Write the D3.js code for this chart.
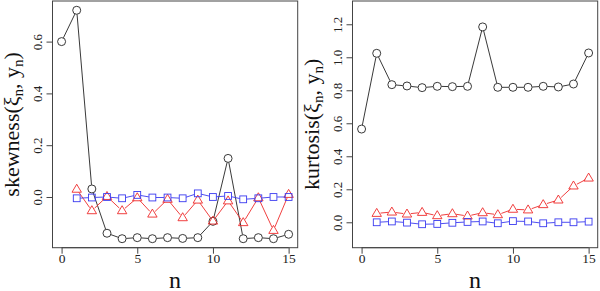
<!DOCTYPE html>
<html><head><meta charset="utf-8">
<script src="https://cdn.jsdelivr.net/npm/d3@7"></script>
<style>body{margin:0;background:#fff}svg{display:block}
svg text{font-family:"Liberation Serif","Times New Roman",Times,"DejaVu Serif",serif !important;}</style>
</head><body>
<svg id="c" width="600" height="291"></svg>
<script>
const nBlack = d3.range(0,16);
const nOther = d3.range(1,16);
const skewBlack = [0.60,0.721,0.031,-0.140,-0.161,-0.157,-0.161,-0.157,-0.160,-0.157,-0.094,0.149,-0.161,-0.157,-0.161,-0.144];
const skewRed = [0.030,-0.053,0.002,-0.053,-0.003,-0.066,-0.009,-0.080,-0.012,-0.093,-0.015,-0.099,-0.003,-0.129,0.010];
const skewBlue = [-0.005,-0.002,0.000,-0.005,0.008,-0.002,-0.002,-0.005,0.014,0.000,0.004,-0.009,-0.005,0.000,0.000];
const kurtBlack = [0.565,1.024,0.834,0.826,0.816,0.824,0.822,0.824,1.184,0.818,0.818,0.818,0.824,0.820,0.838,1.026];
const kurtRed = [0.054,0.062,0.050,0.060,0.040,0.052,0.038,0.058,0.046,0.079,0.075,0.107,0.135,0.220,0.268];
const kurtBlue = [0.000,0.005,-0.002,-0.012,-0.010,-0.003,0.002,0.005,-0.006,0.007,0.005,-0.006,0.000,0.000,0.004];
const xTicks = [0,5,10,15];
const skewTicks = [0.0,0.2,0.4,0.6];
const kurtTicks = [0.0,0.2,0.4,0.6,0.8,1.0,1.2];

const svg = d3.select("#c");

function panel(ox, yDom, yTicks, black, red, blue, name){
  const L = 52.5 + ox, R = 297.7 + ox, T = 1, B = 247.7;
  const x = d3.scaleLinear().domain([-0.6,15.6]).range([L,R]);
  const y = d3.scaleLinear().domain(yDom).range([B,T]);
  const g = svg.append("g");
  g.append("rect").attr("x",L).attr("y",T).attr("width",R-L).attr("height",B-T)
    .attr("fill","none").attr("stroke","#444").attr("stroke-width",1);
  const xa = g.append("g").attr("transform",`translate(0,${B})`)
    .call(d3.axisBottom(x).tickValues(xTicks).tickSize(6).tickSizeOuter(0).tickFormat(d3.format("d")));
  xa.attr("font-family",null);
  xa.select(".domain").attr("d",`M${x(0)},0H${x(15)}`).attr("stroke","#444");
  xa.selectAll(".tick line").attr("stroke","#444");
  xa.selectAll("text").attr("font-size",13.5).attr("fill","#222").attr("dy",null).attr("y",15.5);
  const ya = g.append("g").attr("transform",`translate(${L},0)`)
    .call(d3.axisLeft(y).tickValues(yTicks).tickSize(6).tickSizeOuter(0).tickFormat(d3.format(".1f")));
  ya.attr("font-family",null);
  ya.select(".domain").attr("d",`M0,${y(yTicks[0])}V${y(yTicks[yTicks.length-1])}`).attr("stroke","#444");
  ya.selectAll(".tick line").attr("stroke","#444");
  ya.selectAll(".tick text").attr("font-size",13).attr("fill","#222")
    .attr("x",null).attr("dy",null).attr("text-anchor","middle")
    .attr("transform","translate(-10.5,0) rotate(-90)");
  g.append("text").attr("x",(L+R)/2).attr("y",287.5).attr("text-anchor","middle")
    .attr("font-size",24).attr("fill","#111").text("n");
  const yl = g.append("text").attr("transform",`translate(${ox+18.5},${(T+B)/2}) rotate(-90)`)
    .attr("text-anchor","middle").attr("font-size",22).attr("fill","#111");
  yl.append("tspan").text(name+"(");
  yl.append("tspan").text("ξ");
  yl.append("tspan").attr("font-size",15).attr("dy",4).text("n");
  yl.append("tspan").attr("dy",-4).text(", y");
  yl.append("tspan").attr("font-size",15).attr("dy",4).text("n");
  yl.append("tspan").attr("dy",-4).text(")");

  function series(xs, vals, color, gap, shape, sw){
    const pts = xs.map((n,i)=>[x(n), y(vals[i])]);
    const sg = g.append("g");
    for(let i=0;i<pts.length-1;i++){
      const [x1,y1]=pts[i],[x2,y2]=pts[i+1];
      const d=Math.hypot(x2-x1,y2-y1);
      if(d<=2*gap) continue;
      const ux=(x2-x1)/d, uy=(y2-y1)/d;
      sg.append("line").attr("x1",x1+ux*gap).attr("y1",y1+uy*gap)
        .attr("x2",x2-ux*gap).attr("y2",y2-uy*gap)
        .attr("stroke",color).attr("stroke-width",sw);
    }
    pts.forEach(([px,py])=>{
      if(shape==="circle"){
        sg.append("circle").attr("cx",px).attr("cy",py).attr("r",4.0)
          .attr("fill","none").attr("stroke",color).attr("stroke-width",sw);
      } else if(shape==="square"){
        sg.append("rect").attr("x",px-3.4).attr("y",py-3.4).attr("width",6.8).attr("height",6.8)
          .attr("fill","none").attr("stroke",color).attr("stroke-width",sw);
      } else {
        sg.append("path").attr("d",`M${px},${py-5}L${px+4.7},${py+3}L${px-4.7},${py+3}Z`)
          .attr("fill","none").attr("stroke",color).attr("stroke-width",sw);
      }
    });
  }
  series(nBlack, black, "#222", 4.2, "circle", 0.9);
  series(nOther, red, "#ee2a2a", 3.8, "triangle", 0.9);
  series(nOther, blue, "#3a3af0", 3.6, "square", 0.9);
}

panel(0, [-0.1958,0.7568], skewTicks, skewBlack, skewRed, skewBlue, "skewness");
panel(300, [-0.154,1.341], kurtTicks, kurtBlack, kurtRed, kurtBlue, "kurtosis");
</script>
</body></html>
